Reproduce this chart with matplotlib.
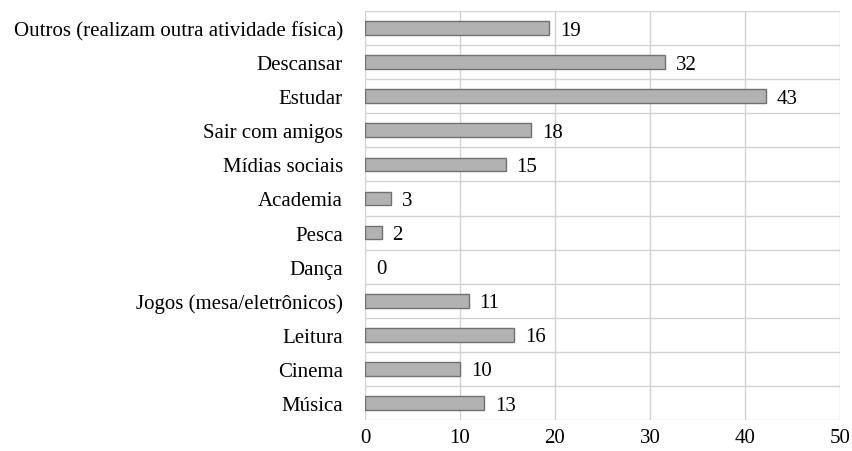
import numpy as np
import matplotlib.pyplot as plt

# categorias de cima para baixo
categorias = [
    "Outros (realizam outra atividade física)",
    "Descansar",
    "Estudar",
    "Sair com amigos",
    "Mídias sociais",
    "Academia",
    "Pesca",
    "Dança",
    "Jogos (mesa/eletrônicos)",
    "Leitura",
    "Cinema",
    "Música",
]
# comprimento das barras
valores = [19.4, 31.6, 42.2, 17.5, 14.8, 2.7, 1.75, 0, 10.9, 15.7, 10.05, 12.5]
# rótulos mostrados ao lado das barras
rotulos = [19, 32, 43, 18, 15, 3, 2, 0, 11, 16, 10, 13]
ticks_x = [0, 10, 20, 30, 40, 50]

plt.rcParams['font.family'] = ['Liberation Serif', 'DejaVu Serif']
fs = 15

fig = plt.figure(figsize=(8.53, 4.52), dpi=100)
ax = fig.add_axes([365 / 853, 1 - 421 / 452, (840 - 365) / 853, (421 - 12) / 452])

n = len(categorias)
y = np.arange(n)
lw = [1 if v > 0 else 0 for v in valores]
ax.barh(y, valores, height=0.4, color='#b2b2b2', edgecolor='#707070', linewidth=lw, zorder=3)

for yi, v, r in zip(y, valores, rotulos):
    ax.text(v + 1.15, yi + 0.06, str(r), va='center', ha='left', fontsize=fs, zorder=4)

ax.set_ylim(n - 0.5, -0.5)
ax.set_xlim(0, 50)
ax.set_yticks(y)
ax.set_yticklabels(categorias, fontsize=fs)
ax.set_xticks(ticks_x)
ax.set_xticklabels([str(t) for t in ticks_x], fontsize=fs)
ax.tick_params(length=0)
ax.tick_params(axis='x', pad=6)
ax.tick_params(axis='y', pad=16)

# grade
ax.set_yticks(np.arange(-0.5, n, 1), minor=True)
ax.grid(True, axis='x', color='#d2d2d2', linewidth=1, zorder=0)
ax.grid(True, which='minor', axis='y', color='#d2d2d2', linewidth=1, zorder=0)
ax.tick_params(which='minor', length=0)
for s in ax.spines.values():
    s.set_visible(False)

fig.savefig('out.png', dpi=100)
